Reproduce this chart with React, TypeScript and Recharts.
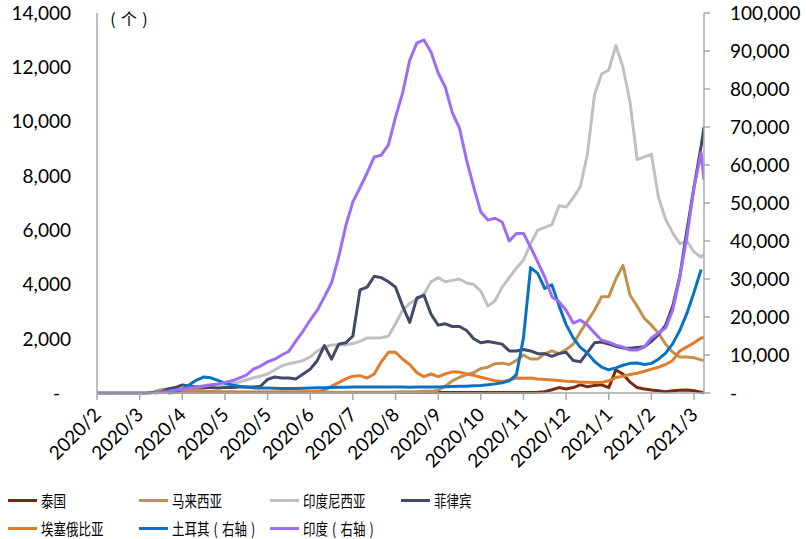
import React from 'react';
import { LineChart, Line, XAxis, YAxis } from 'recharts';

const days = [
  0, 5, 10, 15, 20, 25, 30, 35, 40, 45,
  50, 55, 60, 65, 70, 75, 80, 85, 90, 95,
  100, 105, 110, 115, 120, 125, 130, 135, 140, 145,
  150, 155, 160, 165, 170, 175, 180, 185, 190, 195,
  200, 205, 210, 215, 220, 225, 230, 235, 240, 245,
  250, 255, 260, 265, 270, 275, 280, 285, 290, 295,
  300, 305, 310, 315, 320, 325, 330, 335, 340, 345,
  350, 355, 360, 365, 370, 375, 380, 385, 390, 395,
  400, 405, 410, 415, 420, 425, 427,
];

const xTickDays = [0, 30, 60, 90, 120, 150, 180, 210, 240, 270, 300, 330, 360, 390, 420];
const xTickLabels = ['2020/2', '2020/3', '2020/4', '2020/5', '2020/5', '2020/6', '2020/7', '2020/8', '2020/9', '2020/10', '2020/11', '2020/12', '2021/1', '2021/2', '2021/3'];
const leftTicks = [0, 2000, 4000, 6000, 8000, 10000, 12000, 14000];
const rightTicks = [0, 10000, 20000, 30000, 40000, 50000, 60000, 70000, 80000, 90000, 100000];

const thailand = [
  null, null, null, null, null, null, null, null, 30, 40,
  40, 40, 40, 30, 30, 20, 20, 20, 20, 20,
  20, 20, 20, 20, 20, 20, 20, 20, 20, 20,
  20, 20, 20, 20, 20, 20, 20, 20, 20, 20,
  20, 20, 20, 20, 20, 20, 20, 20, 20, 20,
  20, 20, 20, 20, 20, 20, 20, 20, 20, 20,
  20, 20, 30, 50, 120, 200, 150, 200, 300, 230,
  280, 300, 200, 850, 700, 400, 200, 150, 110, 80,
  50, 80, 100, 110, 80, 30, 10,
];

const malaysia = [
  null, null, null, null, null, null, null, null, 50, 120,
  150, 160, 150, 120, 100, 80, 60, 50, 50, 50,
  40, 40, 40, 40, 40, 40, 40, 40, 40, 40,
  30, 30, 30, 30, 30, 30, 30, 30, 30, 30,
  30, 30, 40, 50, 50, 50, 60, 60, 100, 250,
  450, 580, 680, 750, 900, 950, 1080, 1100, 1050, 1200,
  1400, 1250, 1250, 1450, 1550, 1450, 1600, 1800, 2250, 2650,
  3050, 3550, 3550, 4200, 4700, 3600, 3200, 2750, 2500, 2200,
  1800, 1500, 1330, 1330, 1300, 1220, 1200,
];

const indonesia = [
  null, null, null, null, null, null, null, null, 30, 80,
  100, 130, 150, 200, 230, 280, 300, 300, 320, 350,
  400, 480, 560, 620, 700, 850, 1000, 1080, 1130, 1200,
  1330, 1550, 1700, 1770, 1770, 1780, 1820, 1900, 2030, 2030,
  2040, 2100, 2550, 3050, 3300, 3450, 3650, 4100, 4250, 4100,
  4150, 4200, 4050, 4000, 3750, 3200, 3400, 3900, 4250, 4600,
  4900, 5500, 6000, 6100, 6200, 6900, 6850, 7200, 7600, 8800,
  11000, 11750, 11900, 12800, 12000, 10700, 8600, 8700, 8800, 7200,
  6400, 5900, 5500, 5600, 5200, 5000, 5100,
];

const philippines = [
  0, 0, 0, 0, 0, 0, 0, 0, 20, 50,
  150, 200, 300, 250, 220, 200, 200, 180, 200, 200,
  220, 220, 220, 250, 500, 590, 550, 550, 520, 700,
  880, 1200, 1750, 1250, 1800, 1850, 2100, 3800, 3900, 4300,
  4250, 4100, 3900, 3200, 2600, 3500, 3600, 2900, 2500, 2550,
  2450, 2450, 2300, 2000, 1850, 1900, 1850, 1800, 1550, 1550,
  1600, 1550, 1450, 1450, 1350, 1450, 1500, 1200, 1150, 1500,
  1850, 1880, 1800, 1720, 1660, 1650, 1680, 1700, 1900, 2150,
  2500, 3200, 4300, 6000, 7600, 9100, 9800,
];

const ethiopia = [
  null, null, null, null, null, null, null, null, 10, 20,
  20, 30, 30, 30, 30, 30, 30, 30, 30, 30,
  30, 30, 30, 30, 30, 30, 40, 40, 40, 50,
  50, 60, 100, 250, 380, 520, 620, 640, 550, 700,
  1150, 1500, 1500, 1250, 1050, 750, 600, 700, 600, 700,
  780, 770, 700, 650, 580, 520, 450, 420, 480, 550,
  540, 550, 520, 500, 480, 460, 430, 420, 400, 400,
  390, 390, 450, 570, 620, 680, 730, 800, 880, 950,
  1050, 1200, 1550, 1700, 1850, 2030, 2050,
];

const turkey = [
  null, null, null, null, null, null, null, null, null, null,
  0, 200, 1000, 2200, 3400, 4200, 4000, 3300, 2600, 2100,
  1800, 1550, 1350, 1300, 1300, 1250, 1200, 1200, 1200, 1250,
  1300, 1350, 1400, 1450, 1500, 1500, 1550, 1600, 1600, 1600,
  1600, 1600, 1550, 1550, 1500, 1550, 1600, 1600, 1600, 1650,
  1700, 1750, 1800, 1900, 2000, 2150, 2400, 2700, 3200, 4800,
  14500, 33000, 31500, 27500, 28500, 23000, 18000, 14500, 12000, 10500,
  8300, 6800, 6100, 6600, 7300, 7800, 7900, 7500, 7800, 8900,
  10500, 13000, 16500, 21000, 26500, 32500, null,
];

const india = [
  null, null, null, null, null, null, null, null, 0, 260,
  400, 700, 1000, 1300, 1600, 1800, 2100, 2400, 2800, 3200,
  3900, 4700, 6300, 7100, 8200, 8900, 10000, 11000, 13700, 16300,
  19200, 21800, 25300, 29000, 35800, 44000, 50300, 54000, 57900, 62100,
  62600, 65300, 72600, 79000, 87600, 92100, 92900, 89700, 84200, 80500,
  73700, 69700, 61300, 54200, 47600, 45500, 46000, 45000, 40000, 42000,
  42000, 38400, 34500, 30500, 25300, 24000, 21800, 18400, 19200, 17900,
  15800, 13900, 13400, 12600, 12100, 11300, 11300, 12100, 14500, 15800,
  17100, 21800, 30500, 41100, 54200, 63200, 56000,
];

const series = [
  { key: 'thailand', name: '泰国', color: '#7b2a0c', axis: 'left' },
  { key: 'malaysia', name: '马来西亚', color: '#c4914c', axis: 'left' },
  { key: 'indonesia', name: '印度尼西亚', color: '#c0c0c0', axis: 'left' },
  { key: 'philippines', name: '菲律宾', color: '#404b69', axis: 'left' },
  { key: 'ethiopia', name: '埃塞俄比亚', color: '#e07c2c', axis: 'left' },
  { key: 'turkey', name: '土耳其（右轴）', color: '#0a72c2', axis: 'right' },
  { key: 'india', name: '印度（右轴）', color: '#a06cf6', axis: 'right' },
];

const unitLabel = '（个）';

const data = days.map((d, i) => ({
  day: d,
  thailand: thailand[i],
  malaysia: malaysia[i],
  indonesia: indonesia[i],
  philippines: philippines[i],
  ethiopia: ethiopia[i],
  turkey: turkey[i],
  india: india[i],
}));

const NUM_FONT = 'Lato, "Liberation Sans", sans-serif';
const CJK_FONT = '"Noto Sans CJK SC", sans-serif';
const AXIS_GRAY = '#a8a8a8';

const fmt = (v: number) => v.toLocaleString('en-US');

const LeftTick = (props: any) => {
  const { x, y, payload } = props;
  const zero = payload.value === 0;
  return (
    <text x={zero ? x - 11 : x} y={y} dy="0.36em" textAnchor="end" fontFamily={NUM_FONT} fontSize={19} fill="#000">
      {zero ? '-' : fmt(payload.value)}
    </text>
  );
};

const RightTick = (props: any) => {
  const { x, y, payload } = props;
  const zero = payload.value === 0;
  return (
    <text x={x} y={y} dy="0.36em" textAnchor="start" fontFamily={NUM_FONT} fontSize={19} fill="#000">
      {zero ? '-' : fmt(payload.value)}
    </text>
  );
};

const XTick = (props: any) => {
  const { x, payload } = props;
  const idx = xTickDays.indexOf(payload.value);
  const label = idx >= 0 ? xTickLabels[idx] : '';
  const ax = x + 5;
  const ay = 416;
  return (
    <text x={ax} y={ay} textAnchor="end" transform={`rotate(-45, ${ax}, ${ay})`} fontFamily={NUM_FONT} fontSize={19} fill="#000">
      {label}
    </text>
  );
};

// renders CJK text with full-width parentheses kept at full width
const CjkText = ({ text, size }: { text: string; size: number }) => (
  <>
    {Array.from(text).map((ch, i) =>
      ch === '（' || ch === '）' ? (
        <span key={i} style={{ display: 'inline-block', width: size, textAlign: 'center' }}>
          {ch === '（' ? '(' : ')'}
        </span>
      ) : (
        <span key={i}>{ch}</span>
      )
    )}
  </>
);

const cjkStyle: any = {
  fontFamily: CJK_FONT,
  fontSize: 16,
  color: '#000',
  whiteSpace: 'pre',
};

const LegendBox = () => (
  <div style={{ position: 'absolute', left: 0, top: 0, width: 806, height: 539, pointerEvents: 'none' }}>
    {series.map((s, i) => {
      const col = i % 4;
      const row = Math.floor(i / 4);
      const cy = row === 0 ? 500 : 528;
      const left = 8 + col * 131;
      return (
        <div key={s.key} style={{ position: 'absolute', left, top: cy - 12, height: 24, width: 130 }}>
          <div style={{ position: 'absolute', left: 0, top: 10.5, width: 29, height: 3, background: s.color }} />
          <div
            style={{
              ...cjkStyle,
              position: 'absolute',
              left: 33,
              top: 0,
              height: 24,
              lineHeight: '24px',
              transform: 'scaleX(0.78)',
              transformOrigin: 'left center',
            }}
          >
            <CjkText text={s.name} size={16} />
          </div>
        </div>
      );
    })}
  </div>
);

export default function App() {
  return (
    <div style={{ position: 'absolute', left: 0, top: 0, width: 806, height: 539, background: '#fff', overflow: 'hidden' }}>
      <LineChart width={806} height={539} data={data} margin={{ top: 13, right: 0, left: 0, bottom: 86 }}>
        <XAxis
          dataKey="day"
          type="number"
          domain={[0, 427]}
          ticks={xTickDays}
          interval={0}
          allowDataOverflow
          height={60}
          tickSize={7}
          tickMargin={2}
          axisLine={{ stroke: AXIS_GRAY, strokeWidth: 1.5 }}
          tickLine={{ stroke: AXIS_GRAY, strokeWidth: 1.5 }}
          tick={<XTick />}
        />
        <YAxis
          yAxisId="left"
          orientation="left"
          width={97}
          domain={[0, 14000]}
          ticks={leftTicks}
          interval={0}
          tickSize={0}
          tickMargin={26}
          tickLine={false}
          axisLine={{ stroke: AXIS_GRAY, strokeWidth: 1.5 }}
          tick={<LeftTick />}
        />
        <YAxis
          yAxisId="right"
          orientation="right"
          width={102}
          domain={[0, 100000]}
          ticks={rightTicks}
          interval={0}
          tickSize={6}
          tickMargin={20}
          tickLine={{ stroke: AXIS_GRAY, strokeWidth: 1.5 }}
          axisLine={{ stroke: AXIS_GRAY, strokeWidth: 1.5 }}
          tick={<RightTick />}
        />
        {series.map((s) => (
          <Line
            key={s.key}
            yAxisId={s.axis}
            dataKey={s.key}
            name={s.name}
            type="linear"
            stroke={s.color}
            strokeWidth={3}
            dot={false}
            activeDot={false}
            isAnimationActive={false}
            strokeLinejoin="round"
          />
        ))}
      </LineChart>
      <div
        style={{
          ...cjkStyle,
          position: 'absolute',
          left: 105,
          top: 6,
          lineHeight: '24px',
        }}
      >
        <CjkText text={unitLabel} size={16} />
      </div>
      <LegendBox />
    </div>
  );
}
